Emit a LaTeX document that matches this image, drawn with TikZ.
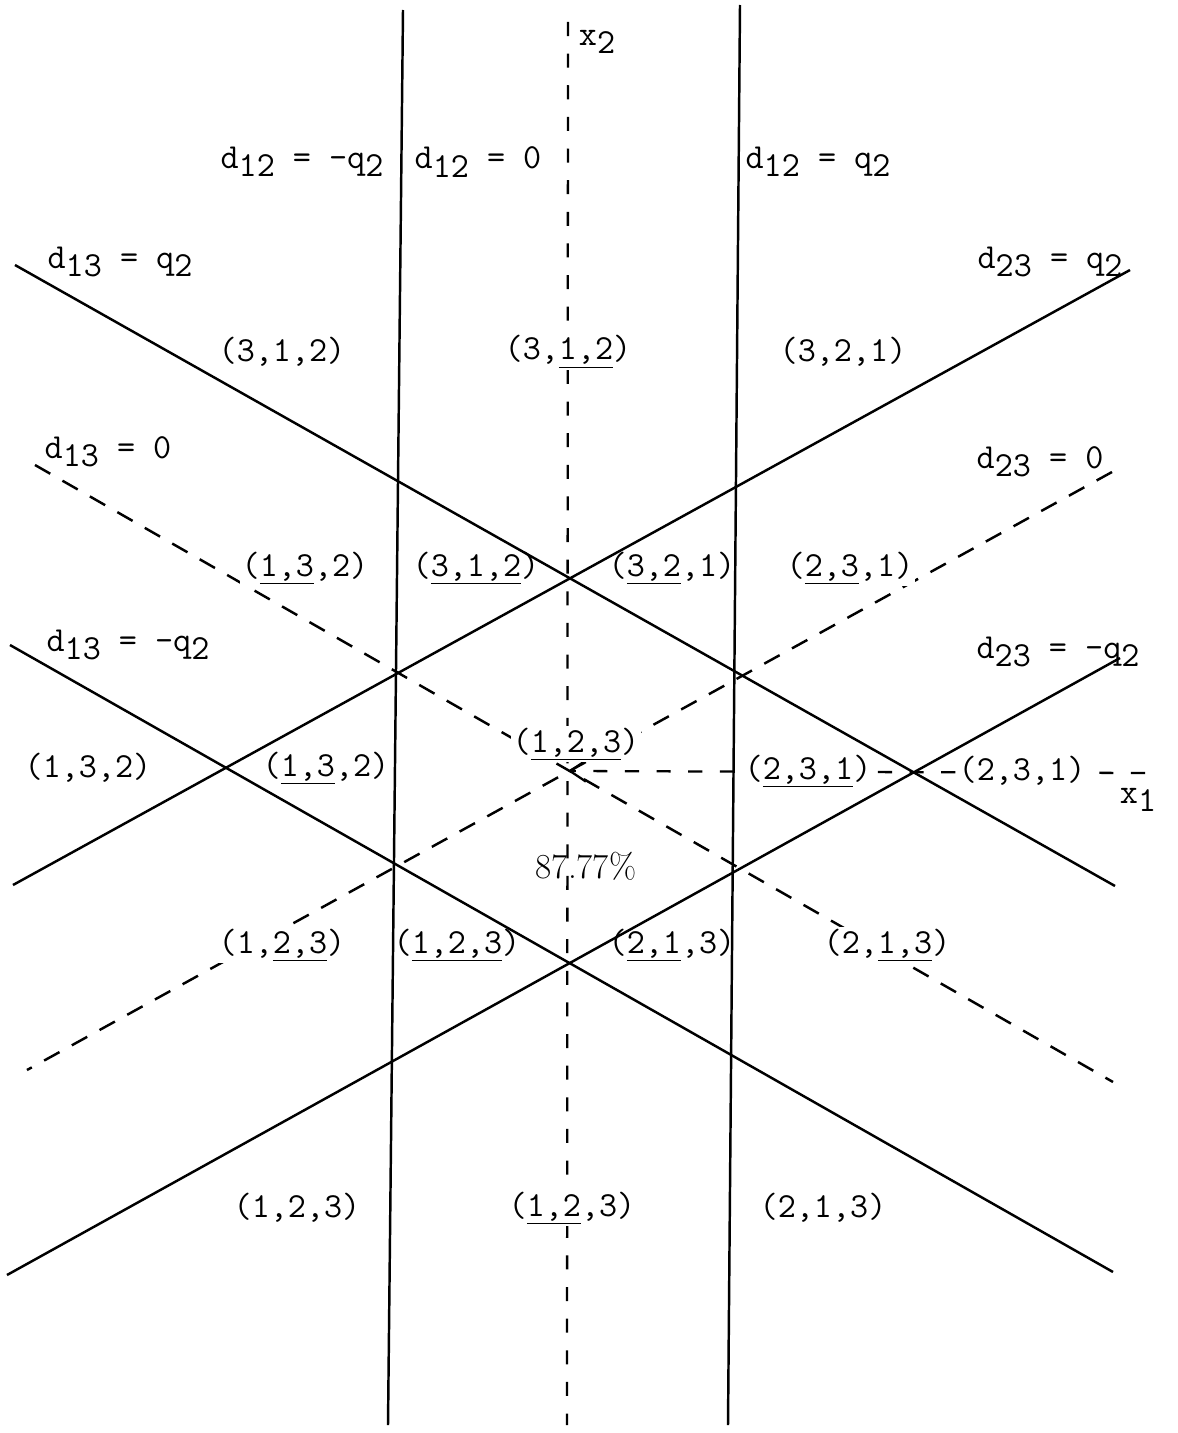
\documentclass[tikz,border=0pt]{standalone}
\usetikzlibrary{arrows.meta}
\newcommand{\lo}[1]{\raisebox{-0.55ex}{#1}}
\newcommand{\ul}[1]{\underline{#1}}

\begin{document}
\begin{tikzpicture}[x=0.02cm, y=-0.02cm,
    bnd/.style={line width=1.4pt},
    zero/.style={line width=1.4pt, dash pattern=on 10pt off 8pt},
    axis/.style={line width=1.3pt, dash pattern=on 8pt off 10pt},
    every node/.style={font=\fontsize{20}{24}\selectfont\ttfamily, inner sep=1pt},
    lbl/.style={fill=white},
    pct/.style={font=\fontsize{20}{24}\selectfont\rmfamily}
  ]
  \useasboundingbox (0,0) rectangle (1177,1433);

  % ends of the lines
  \coordinate (n12t) at (403,10);   \coordinate (n12b) at (388,1425);
  \coordinate (p12t) at (740,5);    \coordinate (p12b) at (728,1425);
  \coordinate (x2t)  at (568,22);   \coordinate (x2b)  at (567,1425);
  \coordinate (p13l) at (15,265);   \coordinate (p13r) at (1115,886);
  \coordinate (z13l) at (35,465);   \coordinate (z13r) at (1113,1082);
  \coordinate (n13l) at (10,645);   \coordinate (n13r) at (1113,1272);
  \coordinate (p23r) at (1130,270); \coordinate (p23l) at (13,885);
  \coordinate (z23r) at (1112,472); \coordinate (z23l) at (27,1070);
  \coordinate (n23r) at (1120,658); \coordinate (n23l) at (7,1275);
  \coordinate (o)    at (568,771);  \coordinate (x1e)  at (1145,773);

  % d12
  \draw[bnd] (n12t) -- (n12b);
  \draw[bnd] (p12t) -- (p12b);
  % d13
  \draw[bnd] (p13l) -- (p13r);
  \draw[zero] (z13l) -- (z13r);
  \draw[bnd] (n13l) -- (n13r);
  % d23
  \draw[bnd] (p23r) -- (p23l);
  \draw[zero] (z23r) -- (z23l);
  \draw[bnd] (n23r) -- (n23l);
  % axes
  \draw[axis] (x2t) -- (x2b);
  \draw[axis, -{Straight Barb[length=9pt,width=12pt]}] (x1e) -- (o);

  \node (x2)  at (597,42) {x\lo{2}};
  \node (x1)  at (1138,800) {x\lo{1}};

  % line names
  \node (d12n) at (302,162) {d\lo{12} = -q\lo{2}};
  \node (d12z) at (478,162) {d\lo{12} = 0};
  \node (d12p) at (818,162) {d\lo{12} = q\lo{2}};
  \node (d13p) at (120,262) {d\lo{13} = q\lo{2}};
  \node (d23p) at (1050,262) {d\lo{23} = q\lo{2}};
  \node (d13z) at (108,452) {d\lo{13} = 0};
  \node (d23z) at (1040,462) {d\lo{23} = 0};
  \node (d13n) at (128,645) {d\lo{13} = -q\lo{2}};
  \node (d23n) at (1058,652) {d\lo{23} = -q\lo{2}};

  % rankings
  \node (r1) at (282,352) {(3,1,2)};
  \node[lbl] (r2) at (568,352) {(3,\ul{1,2})};
  \node (r3) at (843,352) {(3,2,1)};

  \node[lbl] (r4) at (305,568) {(\ul{1,3},2)};
  \node (r5) at (476,568) {(\ul{3,1,2})};
  \node (r6) at (672,568) {(\ul{3,2},1)};
  \node[lbl] (r7) at (850,568) {(\ul{2,3},1)};

  \node (r8) at (88,768) {(1,3,2)};
  \node (r9) at (326,768) {(\ul{1,3},2)};
  \node[lbl] (r10) at (576,744) {(\ul{1,2,3})};
  \node[lbl] (r11) at (808,771) {(\ul{2,3,1})};
  \node[lbl] (r12) at (1022,771) {(2,3,1)};

  \node[pct] (pc) at (586,866) {87.77\%};

  \node[lbl] (r13) at (282,945) {(1,\ul{2,3})};
  \node (r14) at (457,945) {(\ul{1,2,3})};
  \node (r15) at (672,945) {(\ul{2,1},3)};
  \node[lbl] (r16) at (887,945) {(2,\ul{1,3})};

  \node (r17) at (297,1208) {(1,2,3)};
  \node[lbl] (r18) at (572,1208) {(\ul{1,2},3)};
  \node (r19) at (823,1208) {(2,1,3)};
\end{tikzpicture}
\end{document}
